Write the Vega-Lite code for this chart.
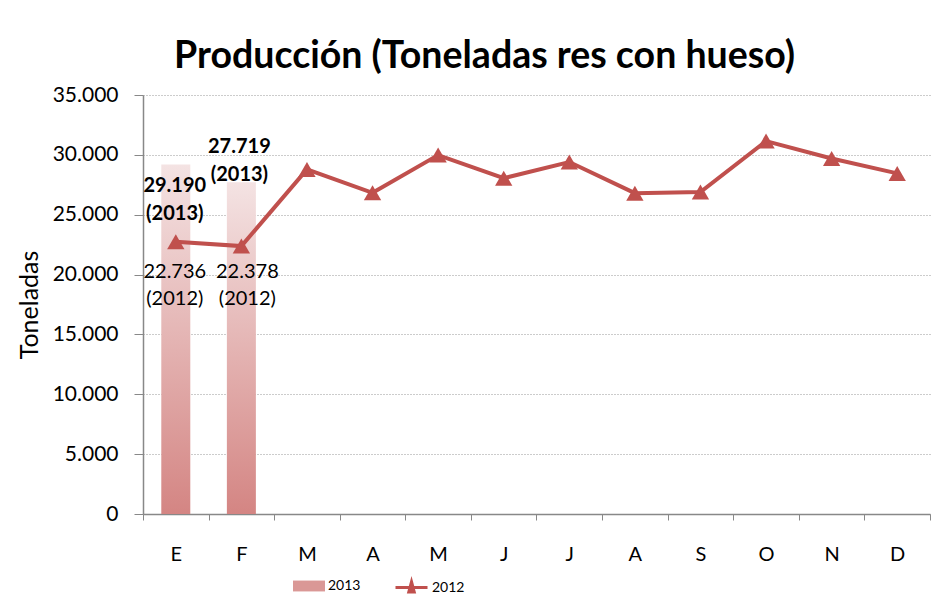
{
  "$schema": "https://vega.github.io/schema/vega-lite/v6.json",
  "width": 787,
  "height": 419,
  "autosize": {"type": "none"},
  "padding": {"left": 143, "top": 95, "right": 16, "bottom": 97},
  "background": "white",
  "config": {
    "locale": {"number": {"decimal": ",", "thousands": ".", "grouping": [3], "currency": ["$", ""]}},
    "view": {"stroke": null},
    "font": "Lato"
  },
  "title": {
    "text": "Producción (Toneladas res con hueso)",
    "font": "Lato",
    "fontSize": 37.5,
    "fontWeight": "bold",
    "color": "#000000",
    "anchor": "middle",
    "frame": "group",
    "dx": -52,
    "dy": 49,
    "baseline": "alphabetic",
    "offset": 28
  },
  "datasets": {
    "d2012": [
      {"mes": "Ene", "toneladas": 22736, "etiqueta": "22.736\n(2012)"},
      {"mes": "Feb", "toneladas": 22378, "etiqueta": "22.378\n(2012)"},
      {"mes": "Mar", "toneladas": 28780},
      {"mes": "Abr", "toneladas": 26830},
      {"mes": "May", "toneladas": 29980},
      {"mes": "Jun", "toneladas": 28050},
      {"mes": "Jul", "toneladas": 29400},
      {"mes": "Ago", "toneladas": 26800},
      {"mes": "Sep", "toneladas": 26900},
      {"mes": "Oct", "toneladas": 31150},
      {"mes": "Nov", "toneladas": 29700},
      {"mes": "Dic", "toneladas": 28450}
    ],
    "d2013": [
      {"mes": "Ene", "toneladas": 29190, "etiqueta": "29.190\n(2013)"},
      {"mes": "Feb", "toneladas": 27719, "etiqueta": "27.719\n(2013)"}
    ]
  },
  "encoding": {
    "x": {
      "field": "mes",
      "type": "nominal",
      "scale": {"domain": ["Ene", "Feb", "Mar", "Abr", "May", "Jun", "Jul", "Ago", "Sep", "Oct", "Nov", "Dic"], "paddingInner": 0, "paddingOuter": 0},
      "axis": {
        "title": null,
        "grid": false,
        "tickBand": "extent",
        "labelExpr": "substring(datum.label, 0, 1)",
        "labelAngle": 0,
        "labelFont": "Lato",
        "labelFontSize": 20,
        "labelColor": "#000000",
        "labelPadding": 24,
        "tickSize": 6,
        "tickColor": "#888888",
        "domainColor": "#888888",
        "domainWidth": 1.5
      }
    },
    "y": {
      "field": "toneladas",
      "type": "quantitative",
      "scale": {"domain": [0, 35000], "nice": false},
      "axis": {
        "title": "Toneladas",
        "titleFont": "Lato",
        "titleFontSize": 25,
        "titleFontWeight": "normal",
        "titleColor": "#000000",
        "titlePadding": 10,
        "values": [0, 5000, 10000, 15000, 20000, 25000, 30000, 35000],
        "format": ",d",
        "labelFont": "Lato",
        "labelFontSize": 21,
        "labelColor": "#000000",
        "labelPadding": 16,
        "tickSize": 9,
        "tickColor": "#888888",
        "domainColor": "#888888",
        "domainWidth": 1.5,
        "grid": true,
        "gridColor": "#9a9a9a",
        "gridDash": [1, 2],
        "gridWidth": 1.2
      }
    }
  },
  "layer": [
    {
      "data": {"name": "d2013"},
      "mark": {
        "type": "bar",
        "size": 29,
        "fill": {"gradient": "linear", "x1": 0, "y1": 0, "x2": 0, "y2": 1, "stops": [{"offset": 0, "color": "#f4e3e3"}, {"offset": 1, "color": "#d48583"}]}
      },
      "encoding": {}
    },
    {
      "data": {"name": "d2013"},
      "mark": {"type": "bar", "size": 29, "opacity": 0},
      "encoding": {
        "fill": {
          "datum": "2013",
          "scale": {"domain": ["2013"], "range": ["#da9896"]},
          "legend": {
            "title": null,
            "orient": "none",
            "legendX": 150,
            "legendY": 475,
            "padding": 0,
            "symbolType": "M-1,-0.34H1V0.34H-1Z",
            "symbolSize": 1024,
            "symbolOpacity": 1,
            "symbolStrokeWidth": 0,
            "labelFont": "Lato",
            "labelFontSize": 14,
            "labelColor": "#000000",
            "labelOffset": 3,
            "encode": {"symbols": {"update": {"opacity": {"value": 1}, "fill": {"value": "#da9896"}}}}
          }
        }
      }
    },
    {
      "data": {"name": "d2012"},
      "mark": {"type": "line", "strokeWidth": 4},
      "encoding": {
        "color": {
          "datum": "2012",
          "scale": {"domain": ["2012"], "range": ["#c0504d"]},
          "legend": {
            "title": null,
            "orient": "none",
            "legendX": 251,
            "legendY": 475,
            "padding": 0,
            "symbolType": "M-1,0H1M0,-0.36L0.17,0.28H-0.17Z",
            "symbolSize": 1024,
            "symbolStrokeWidth": 3,
            "symbolStrokeColor": "#c0504d",
            "symbolFillColor": "#c0504d",
            "labelFont": "Lato",
            "labelFontSize": 14,
            "labelColor": "#000000",
            "labelOffset": 3,
            "encode": {"symbols": {"update": {"opacity": {"value": 1}, "fill": {"value": "#c0504d"}, "stroke": {"value": "#c0504d"}, "strokeWidth": {"value": 3}, "strokeOpacity": {"value": 1}, "fillOpacity": {"value": 1}}}}
          }
        }
      }
    },
    {
      "data": {"name": "d2012"},
      "mark": {"type": "point", "shape": "triangle-up", "filled": true, "size": 300, "opacity": 1, "color": "#c0504d"},
      "encoding": {}
    },
    {
      "data": {"name": "d2013"},
      "transform": [{"filter": "datum.mes === 'Ene'"}],
      "mark": {"type": "text", "font": "Lato", "fontSize": 20, "fontWeight": "bold", "lineBreak": "\n", "lineHeight": 28, "baseline": "top", "align": "center", "dy": 11, "dx": -1, "color": "#000000"},
      "encoding": {"text": {"field": "etiqueta"}}
    },
    {
      "data": {"name": "d2013"},
      "transform": [{"filter": "datum.mes === 'Feb'"}],
      "mark": {"type": "text", "font": "Lato", "fontSize": 20, "fontWeight": "bold", "lineBreak": "\n", "lineHeight": 28, "baseline": "top", "align": "center", "dy": -45, "dx": -2, "color": "#000000"},
      "encoding": {"text": {"field": "etiqueta"}}
    },
    {
      "data": {"name": "d2012"},
      "transform": [{"filter": "datum.mes === 'Ene'"}],
      "mark": {"type": "text", "font": "Lato", "fontSize": 20, "lineBreak": "\n", "lineHeight": 27, "baseline": "top", "align": "center", "dy": 20, "dx": -1, "color": "#000000"},
      "encoding": {"text": {"field": "etiqueta"}}
    },
    {
      "data": {"name": "d2012"},
      "transform": [{"filter": "datum.mes === 'Feb'"}],
      "mark": {"type": "text", "font": "Lato", "fontSize": 20, "lineBreak": "\n", "lineHeight": 27, "baseline": "top", "align": "center", "dy": 16, "dx": 6, "color": "#000000"},
      "encoding": {"text": {"field": "etiqueta"}}
    }
  ]
}
